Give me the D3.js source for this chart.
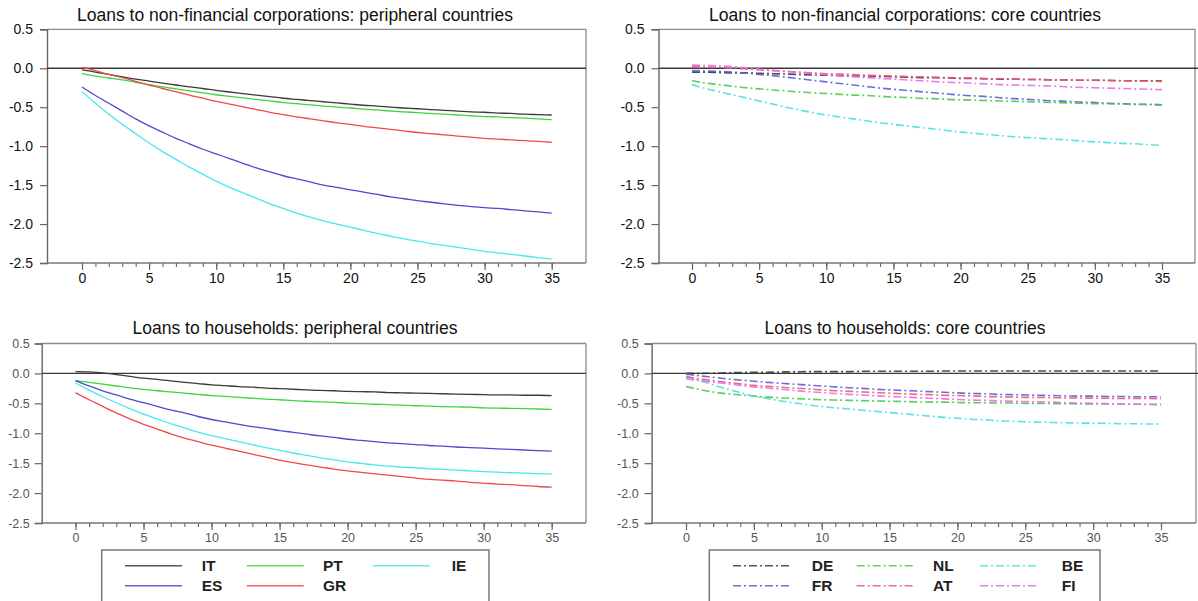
<!DOCTYPE html>
<html>
<head>
<meta charset="utf-8">
<script src="https://cdn.jsdelivr.net/npm/d3@7"></script>
<style>
  html, body { margin: 0; padding: 0; background: #fff; }
  svg { display: block; font-family: Arial, "Liberation Sans", sans-serif; }
</style>
</head>
<body>
<svg id="chart" width="1198" height="601"></svg>
<script>
// ---------------- DATA ----------------
const horizons = d3.range(0, 36);
const yTicks = [0.5, 0.0, -0.5, -1.0, -1.5, -2.0, -2.5];
const xMajorTicks = [0, 5, 10, 15, 20, 25, 30, 35];

const titles = [
  "Loans to non-financial corporations: peripheral countries",
  "Loans to non-financial corporations: core countries",
  "Loans to households: peripheral countries",
  "Loans to households: core countries"
];

const peripheralNames = ["IT", "ES", "PT", "GR", "IE"];
const coreNames = ["DE", "FR", "NL", "AT", "BE", "FI"];

// Loans to NFCs - peripheral
const nfcIT = [-0.02,-0.05,-0.08,-0.11,-0.14,-0.165,-0.19,-0.215,-0.24,-0.26,-0.285,-0.305,-0.325,-0.345,-0.365,-0.385,-0.40,-0.415,-0.43,-0.445,-0.46,-0.475,-0.485,-0.50,-0.51,-0.52,-0.53,-0.54,-0.55,-0.56,-0.565,-0.575,-0.58,-0.59,-0.595,-0.60];
const nfcPT = [-0.07,-0.10,-0.125,-0.15,-0.18,-0.21,-0.24,-0.265,-0.29,-0.315,-0.34,-0.36,-0.38,-0.40,-0.42,-0.44,-0.455,-0.47,-0.485,-0.50,-0.51,-0.525,-0.535,-0.55,-0.56,-0.57,-0.58,-0.59,-0.60,-0.61,-0.62,-0.625,-0.635,-0.64,-0.65,-0.66];
const nfcGR = [0.01,-0.03,-0.08,-0.12,-0.17,-0.215,-0.26,-0.30,-0.345,-0.385,-0.425,-0.46,-0.495,-0.53,-0.565,-0.595,-0.625,-0.65,-0.675,-0.70,-0.72,-0.745,-0.765,-0.785,-0.805,-0.825,-0.84,-0.855,-0.87,-0.885,-0.90,-0.91,-0.92,-0.93,-0.94,-0.95];
const nfcES = [-0.24,-0.35,-0.45,-0.55,-0.65,-0.74,-0.82,-0.90,-0.97,-1.04,-1.10,-1.16,-1.22,-1.28,-1.33,-1.38,-1.42,-1.46,-1.50,-1.53,-1.56,-1.59,-1.62,-1.65,-1.675,-1.70,-1.72,-1.74,-1.76,-1.775,-1.79,-1.80,-1.815,-1.83,-1.845,-1.86];
const nfcIE = [-0.30,-0.45,-0.59,-0.72,-0.84,-0.96,-1.07,-1.17,-1.27,-1.36,-1.45,-1.53,-1.60,-1.67,-1.74,-1.80,-1.86,-1.91,-1.96,-2.00,-2.04,-2.08,-2.12,-2.155,-2.19,-2.22,-2.25,-2.275,-2.30,-2.325,-2.35,-2.37,-2.39,-2.41,-2.43,-2.45];

// Loans to NFCs - core
const nfcDE = [-0.05,-0.05,-0.055,-0.06,-0.06,-0.065,-0.07,-0.075,-0.08,-0.085,-0.09,-0.095,-0.10,-0.10,-0.105,-0.11,-0.115,-0.12,-0.12,-0.125,-0.13,-0.13,-0.135,-0.14,-0.14,-0.145,-0.145,-0.15,-0.15,-0.155,-0.155,-0.155,-0.16,-0.16,-0.16,-0.165];
const nfcFR = [-0.03,-0.035,-0.04,-0.05,-0.06,-0.08,-0.095,-0.115,-0.135,-0.155,-0.175,-0.195,-0.215,-0.235,-0.255,-0.27,-0.285,-0.30,-0.315,-0.33,-0.345,-0.355,-0.365,-0.38,-0.39,-0.40,-0.41,-0.42,-0.425,-0.435,-0.44,-0.45,-0.455,-0.46,-0.465,-0.47];
const nfcNL = [-0.16,-0.19,-0.21,-0.23,-0.25,-0.265,-0.28,-0.29,-0.305,-0.315,-0.325,-0.335,-0.345,-0.35,-0.36,-0.37,-0.375,-0.385,-0.39,-0.40,-0.405,-0.41,-0.415,-0.42,-0.425,-0.43,-0.435,-0.44,-0.445,-0.45,-0.455,-0.455,-0.46,-0.465,-0.465,-0.47];
const nfcAT = [0.02,0.015,0.01,0.0,-0.01,-0.02,-0.03,-0.04,-0.05,-0.06,-0.07,-0.075,-0.08,-0.09,-0.095,-0.10,-0.105,-0.11,-0.115,-0.12,-0.125,-0.13,-0.135,-0.135,-0.14,-0.145,-0.145,-0.15,-0.15,-0.155,-0.155,-0.16,-0.16,-0.165,-0.165,-0.17];
const nfcBE = [-0.21,-0.26,-0.30,-0.34,-0.38,-0.42,-0.46,-0.50,-0.535,-0.57,-0.60,-0.625,-0.65,-0.675,-0.70,-0.72,-0.74,-0.76,-0.78,-0.80,-0.82,-0.835,-0.85,-0.865,-0.88,-0.89,-0.90,-0.91,-0.92,-0.935,-0.945,-0.955,-0.965,-0.97,-0.98,-0.99];
const nfcFI = [0.04,0.035,0.03,0.02,0.005,-0.01,-0.025,-0.04,-0.055,-0.07,-0.085,-0.095,-0.11,-0.12,-0.13,-0.14,-0.15,-0.16,-0.17,-0.18,-0.185,-0.195,-0.20,-0.21,-0.215,-0.22,-0.225,-0.23,-0.24,-0.245,-0.25,-0.255,-0.26,-0.265,-0.27,-0.275];

// Loans to households - peripheral
const hhIT = [0.03,0.025,0.01,-0.02,-0.05,-0.08,-0.10,-0.125,-0.15,-0.17,-0.19,-0.205,-0.22,-0.23,-0.245,-0.255,-0.265,-0.275,-0.285,-0.29,-0.30,-0.305,-0.31,-0.32,-0.325,-0.33,-0.335,-0.34,-0.345,-0.35,-0.355,-0.36,-0.36,-0.365,-0.365,-0.37];
const hhPT = [-0.12,-0.15,-0.18,-0.21,-0.24,-0.265,-0.29,-0.31,-0.33,-0.35,-0.37,-0.385,-0.40,-0.415,-0.43,-0.44,-0.455,-0.465,-0.475,-0.485,-0.495,-0.505,-0.515,-0.52,-0.53,-0.54,-0.545,-0.555,-0.56,-0.565,-0.575,-0.58,-0.585,-0.59,-0.595,-0.60];
const hhES = [-0.12,-0.21,-0.29,-0.36,-0.43,-0.49,-0.55,-0.61,-0.66,-0.72,-0.77,-0.81,-0.85,-0.89,-0.92,-0.955,-0.985,-1.015,-1.045,-1.07,-1.10,-1.12,-1.14,-1.16,-1.175,-1.19,-1.205,-1.215,-1.23,-1.24,-1.25,-1.26,-1.27,-1.28,-1.29,-1.30];
const hhIE = [-0.16,-0.28,-0.39,-0.49,-0.59,-0.68,-0.76,-0.84,-0.91,-0.98,-1.04,-1.09,-1.14,-1.19,-1.24,-1.285,-1.33,-1.37,-1.41,-1.445,-1.48,-1.505,-1.53,-1.55,-1.565,-1.58,-1.595,-1.605,-1.615,-1.63,-1.64,-1.65,-1.66,-1.665,-1.675,-1.68];
const hhGR = [-0.32,-0.44,-0.55,-0.66,-0.76,-0.85,-0.93,-1.01,-1.08,-1.14,-1.20,-1.25,-1.30,-1.35,-1.40,-1.45,-1.49,-1.53,-1.565,-1.60,-1.63,-1.655,-1.68,-1.70,-1.725,-1.75,-1.77,-1.785,-1.80,-1.82,-1.835,-1.85,-1.86,-1.875,-1.89,-1.90];

// Loans to households - core
const hhDE = [0.0,0.0,0.005,0.01,0.015,0.02,0.02,0.025,0.025,0.03,0.03,0.03,0.03,0.035,0.035,0.035,0.035,0.035,0.035,0.04,0.04,0.04,0.04,0.04,0.04,0.04,0.04,0.04,0.04,0.04,0.04,0.04,0.04,0.04,0.04,0.04];
const hhFR = [-0.01,-0.04,-0.065,-0.09,-0.11,-0.13,-0.15,-0.165,-0.18,-0.195,-0.21,-0.225,-0.24,-0.25,-0.265,-0.275,-0.285,-0.295,-0.305,-0.315,-0.325,-0.335,-0.34,-0.35,-0.355,-0.36,-0.365,-0.37,-0.375,-0.38,-0.38,-0.385,-0.385,-0.39,-0.39,-0.39];
const hhNL = [-0.22,-0.27,-0.31,-0.34,-0.36,-0.38,-0.395,-0.41,-0.42,-0.43,-0.44,-0.445,-0.45,-0.455,-0.46,-0.465,-0.47,-0.475,-0.48,-0.48,-0.485,-0.49,-0.49,-0.495,-0.495,-0.50,-0.50,-0.505,-0.505,-0.51,-0.51,-0.51,-0.515,-0.515,-0.515,-0.515];
const hhAT = [-0.06,-0.09,-0.12,-0.15,-0.175,-0.20,-0.215,-0.23,-0.245,-0.26,-0.275,-0.29,-0.30,-0.31,-0.32,-0.33,-0.34,-0.35,-0.355,-0.365,-0.37,-0.375,-0.385,-0.39,-0.395,-0.40,-0.40,-0.405,-0.41,-0.41,-0.415,-0.415,-0.42,-0.42,-0.42,-0.425];
const hhBE = [-0.04,-0.12,-0.19,-0.26,-0.32,-0.38,-0.42,-0.46,-0.495,-0.525,-0.555,-0.575,-0.595,-0.615,-0.635,-0.655,-0.675,-0.695,-0.715,-0.735,-0.75,-0.765,-0.775,-0.79,-0.80,-0.81,-0.815,-0.82,-0.825,-0.83,-0.83,-0.835,-0.84,-0.84,-0.845,-0.845];
const hhFI = [-0.09,-0.12,-0.145,-0.17,-0.20,-0.225,-0.245,-0.265,-0.285,-0.305,-0.32,-0.335,-0.35,-0.36,-0.375,-0.385,-0.395,-0.405,-0.415,-0.425,-0.435,-0.445,-0.45,-0.46,-0.465,-0.47,-0.475,-0.48,-0.49,-0.495,-0.50,-0.505,-0.51,-0.515,-0.52,-0.525];

// ---------------- STYLE ----------------
const colors = {
  IT: "#3a3a3a", ES: "#4b4bd0", PT: "#3fd43f", GR: "#ee4a4a", IE: "#48e8e8",
  DE: "#3a3a3a", FR: "#5c5ce0", NL: "#45cc45", AT: "#ec5a6a", BE: "#4cdede", FI: "#ea6aea"
};
const dashDot = "8,3,2,3";

const panels = [
  { title: titles[0], tx: 295, ty: 15, left: 47, right: 586, top: 29.3, bottom: 263, x0: 82, x35: 551.7,
    series: [["IT", nfcIT], ["PT", nfcPT], ["GR", nfcGR], ["ES", nfcES], ["IE", nfcIE]], dashed: false, big: true, tickPad: 7 },
  { title: titles[1], tx: 905, ty: 15, left: 658.5, right: 1195, top: 29.3, bottom: 263, x0: 692, x35: 1162,
    series: [["DE", nfcDE], ["FR", nfcFR], ["NL", nfcNL], ["BE", nfcBE], ["AT", nfcAT], ["FI", nfcFI]], dashed: true, big: true, tickPad: 7 },
  { title: titles[2], tx: 295, ty: 328, left: 41.7, right: 586, top: 343.5, bottom: 523, x0: 75.5, x35: 551.7,
    series: [["IT", hhIT], ["PT", hhPT], ["ES", hhES], ["IE", hhIE], ["GR", hhGR]], dashed: false, big: false, tickPad: 5 },
  { title: titles[3], tx: 905, ty: 328, left: 651.6, right: 1196, top: 343.5, bottom: 523, x0: 686, x35: 1161,
    series: [["DE", hhDE], ["NL", hhNL], ["BE", hhBE], ["AT", hhAT], ["FI", hhFI], ["FR", hhFR]], dashed: true, big: false, tickPad: 6 }
];

const svg = d3.select("#chart");

panels.forEach(p => {
  const g = svg.append("g");
  const x = d3.scaleLinear().domain([0, 35]).range([p.x0, p.x35]);
  const y = d3.scaleLinear().domain([-2.5, 0.5]).range([p.bottom, p.top]);

  // title
  g.append("text").attr("x", p.tx).attr("y", p.ty).attr("dy", "0.35em")
    .attr("text-anchor", "middle").attr("font-size", 17.5)
    .attr("fill", "#111").text(p.title);

  // frame (top and right)
  g.append("line").attr("x1", p.left).attr("x2", p.right).attr("y1", p.top).attr("y2", p.top)
    .attr("stroke", "#8a8a8a").attr("stroke-width", 1.3);
  g.append("line").attr("x1", p.right).attr("x2", p.right).attr("y1", p.top).attr("y2", p.bottom)
    .attr("stroke", "#8a8a8a").attr("stroke-width", 1.3);

  // y axis
  const yAxis = g.append("g").attr("transform", `translate(${p.left},0)`)
    .call(d3.axisLeft(y).tickValues(yTicks).tickSize(7).tickPadding(p.tickPad)
      .tickFormat(d => d.toFixed(1)));
  yAxis.select(".domain").attr("stroke", "#666").attr("stroke-width", 1.4);
  yAxis.selectAll(".tick line").attr("stroke", "#666").attr("stroke-width", 1.2);
  yAxis.selectAll("text").attr("font-size", p.big ? 14 : 12.5)
    .attr("fill", p.big ? "#111" : "#555").attr("font-family", "Arial, 'Liberation Sans', sans-serif");

  // x axis: bottom line
  g.append("line").attr("x1", p.left).attr("x2", p.right).attr("y1", p.bottom).attr("y2", p.bottom)
    .attr("stroke", "#777").attr("stroke-width", 1.4);
  // minor ticks
  const xMinor = g.append("g").attr("transform", `translate(0,${p.bottom})`)
    .call(d3.axisBottom(x).tickValues(horizons).tickSize(4).tickFormat(""));
  xMinor.select(".domain").remove();
  xMinor.selectAll(".tick line").attr("stroke", "#666").attr("stroke-width", 1.1);
  // major ticks + labels
  const xMajor = g.append("g").attr("transform", `translate(0,${p.bottom})`)
    .call(d3.axisBottom(x).tickValues(xMajorTicks).tickSize(7).tickPadding(3).tickFormat(d3.format("d")));
  xMajor.select(".domain").remove();
  xMajor.selectAll(".tick line").attr("stroke", "#666").attr("stroke-width", 1.2);
  xMajor.selectAll("text").attr("font-size", p.big ? 14 : 12.5)
    .attr("fill", p.big ? "#111" : "#555").attr("font-family", "Arial, 'Liberation Sans', sans-serif");

  // zero line
  g.append("line").attr("x1", p.left).attr("x2", p.right + (p.right > 1190 ? 3 : 0))
    .attr("y1", y(0)).attr("y2", y(0)).attr("stroke", "#3a3a3a").attr("stroke-width", 1.3);

  // series
  const line = d3.line().x((d, i) => x(horizons[i])).y(d => y(d)).curve(d3.curveMonotoneX);
  p.series.forEach(([name, vals]) => {
    g.append("path").datum(vals).attr("d", line)
      .attr("fill", "none").attr("stroke", colors[name])
      .attr("stroke-width", p.dashed ? 1.6 : 1.3)
      .attr("stroke-dasharray", p.dashed ? dashDot : null)
      .attr("opacity", p.dashed ? 0.9 : 1);
  });
});

// ---------------- LEGENDS ----------------
const legends = [
  { left: 101.7, right: 489, top: 550, lineX: [125, 246.7, 372.7], labelX: [201.7, 323, 451.7],
    items: [["IT", 0, 0], ["PT", 1, 0], ["IE", 2, 0], ["ES", 0, 1], ["GR", 1, 1]], dashed: false },
  { left: 709.3, right: 1100, top: 550, lineX: [733, 856.7, 980], labelX: [811.7, 933, 1061.7],
    items: [["DE", 0, 0], ["NL", 1, 0], ["BE", 2, 0], ["FR", 0, 1], ["AT", 1, 1], ["FI", 2, 1]], dashed: true }
];
const rowY = [565.7, 585.7];
const lineLen = 57;

legends.forEach(L => {
  const g = svg.append("g");
  g.append("rect").attr("x", L.left).attr("y", L.top).attr("width", L.right - L.left).attr("height", 70)
    .attr("fill", "#fff").attr("stroke", "#777").attr("stroke-width", 1.5);
  L.items.forEach(([name, col, row]) => {
    g.append("line").attr("x1", L.lineX[col]).attr("x2", L.lineX[col] + lineLen)
      .attr("y1", rowY[row]).attr("y2", rowY[row])
      .attr("stroke", colors[name]).attr("stroke-width", 1.6)
      .attr("stroke-dasharray", L.dashed ? dashDot : null).attr("opacity", 0.85);
    g.append("text").attr("x", L.labelX[col]).attr("y", rowY[row]).attr("dy", "0.35em")
      .attr("font-size", 15.5).attr("font-weight", "bold").attr("fill", "#222").text(name);
  });
});
</script>
</body>
</html>
